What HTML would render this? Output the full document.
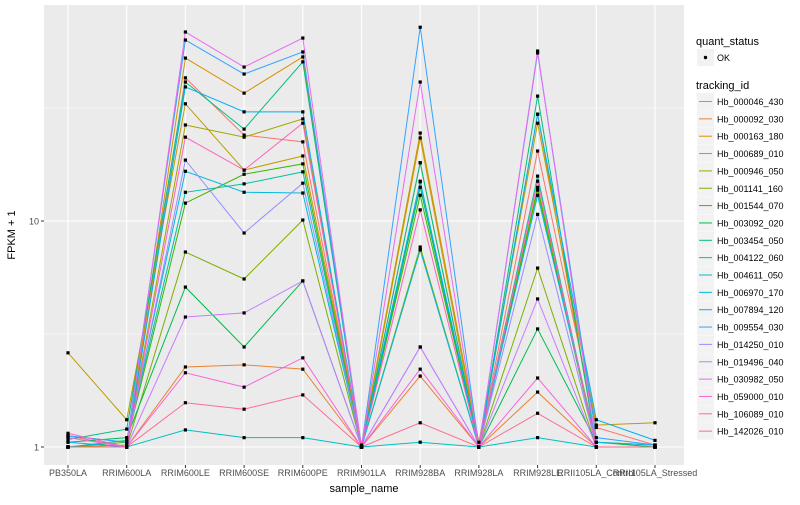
<!DOCTYPE html>
<html><head><meta charset="utf-8"><style>
body{margin:0;background:#fff;font-family:"Liberation Sans",sans-serif}
svg text{font-family:"Liberation Sans",sans-serif}
</style></head><body>
<svg id="c" width="800" height="500"></svg>
<script>
const categories=["PB350LA","RRIM600LA","RRIM600LE","RRIM600SE","RRIM600PE","RRIM901LA","RRIM928BA","RRIM928LA","RRIM928LE","RRII105LA_Control","RRII105LA_Stressed"];
const seriesIds=["Hb_000046_430","Hb_000092_030","Hb_000163_180","Hb_000689_010","Hb_000946_050","Hb_001141_160","Hb_001544_070","Hb_003092_020","Hb_003454_050","Hb_004122_060","Hb_004611_050","Hb_006970_170","Hb_007894_120","Hb_009554_030","Hb_014250_010","Hb_019496_040","Hb_030982_050","Hb_059000_010","Hb_106089_010","Hb_142026_010"];
const colors=["#F8766D","#EA8331","#D89000","#C09B00","#A3A500","#7CAE00","#39B600","#00BB4E","#00BF7D","#00C1A3","#00BFC4","#00BAE0","#00B0F6","#35A2FF","#9590FF","#C77CFF","#E76BF3","#FA62DB","#FF62BC","#FF6C91"];
const s01=[1.12,1.0,43,24,22.4,1.0,18.1,1.0,20.4,1.22,1.02];
const s02=[1.0,1.0,2.26,2.31,2.21,1.0,2.06,1.0,1.75,1.0,1.0];
const s03=[1.0,1.0,52.6,36.8,53.2,1.0,23.3,1.0,29.7,1.05,1.02];
const s04=[2.61,1.32,33,16.8,19.4,1.02,24.5,1.05,27.1,1.25,1.28];
const s05=[1.0,1.02,26.6,23.5,28.3,1.0,7.45,1.0,14.1,1.05,1.02];
const s06=[1.0,1.0,7.29,5.54,10.1,1.0,7.67,1.0,6.19,1.0,1.0];
const s07=[1.0,1.05,12,16.1,17.9,1.0,13,1.0,13.7,1.0,1.0];
const s08=[1.05,1.1,5.1,2.77,5.43,1.0,14.1,1.0,3.33,1.05,1.0];
const s09=[1.08,1.2,41.2,25.5,50.6,1.0,18.1,1.0,35.7,1.0,1.0];
const s10=[1.0,1.07,13.4,14.6,16.5,1.0,14.9,1.0,15.8,1.0,1.0];
const s11=[1.0,1.0,1.19,1.10,1.10,1.0,1.05,1.0,1.10,1.0,1.0];
const s12=[1.12,1.05,16.6,13.4,13.3,1.0,7.45,1.0,13.0,1.05,1.02];
const s13=[1.05,1.0,39.2,30.4,30.4,1.0,15,1.0,29.7,1.32,1.07];
const s14=[1.12,1.05,63.2,44.7,56,1.0,72,1.0,55.4,1.1,1.02];
const s15=[1.0,1.0,18.6,8.85,14.7,1.0,2.77,1.0,10.7,1.0,1.0];
const s16=[1.0,1.0,3.76,3.92,5.43,1.0,2.77,1.0,4.52,1.0,1.0];
const s17=[1.0,1.0,68.6,48,64.5,1.0,41.2,1.0,56.5,1.0,1.0];
const s18=[1.1,1.0,2.13,1.84,2.48,1.0,2.21,1.0,2.02,1.0,1.0];
const s19=[1.15,1.0,23.5,16.8,27.1,1.0,11.2,1.0,15,1.0,1.0];
const s20=[1.0,1.0,1.57,1.47,1.70,1.0,1.28,1.0,1.41,1.0,1.0];
const seriesValues=[s01,s02,s03,s04,s05,s06,s07,s08,s09,s10,s11,s12,s13,s14,s15,s16,s17,s18,s19,s20];
const yTicks=[1,10];
const yTickLabels=["1","10"];

const NS="http://www.w3.org/2000/svg";
const svg=document.getElementById('c');
function mk(t,a,p){const e=document.createElementNS(NS,t);for(const k in a)e.setAttribute(k,a[k]);(p||svg).appendChild(e);return e;}
const PL=44,PR=684,PT=5,PB=465;
const x=i=>68+i*58.7;
const y=v=>447-226*Math.log10(v);
const panel=mk('rect',{x:PL,y:PT,width:PR-PL,height:PB-PT,fill:'#EBEBEB'});


[Math.sqrt(10),Math.sqrt(1000)].forEach(v=>{mk('line',{x1:PL,x2:PR,y1:y(v),y2:y(v),stroke:'#fff','stroke-width':0.5});});
yTicks.forEach((v,i)=>{
 mk('line',{x1:PL,x2:PR,y1:y(v),y2:y(v),stroke:'#fff','stroke-width':1.1});
 mk('line',{x1:PL-3,x2:PL,y1:y(v),y2:y(v),stroke:'#333','stroke-width':1});
 const t=mk('text',{x:PL-5,y:y(v)+3.5,'text-anchor':'end','font-size':9,fill:'#4D4D4D'});t.textContent=yTickLabels[i];
 
 
});
categories.forEach((c,i)=>{
 mk('line',{x1:x(i),x2:x(i),y1:PT,y2:PB,stroke:'#fff','stroke-width':1.1});
 mk('line',{x1:x(i),x2:x(i),y1:PB,y2:PB+3,stroke:'#333','stroke-width':1});
 const t=mk('text',{x:x(i),y:PB+11,'text-anchor':'middle','font-size':9,fill:'#4D4D4D'});t.textContent=c;
 
 
});
seriesValues.forEach((vals,s)=>{
 const pl=mk('polyline',{points:vals.map((v,i)=>x(i)+','+y(v)).join(' '),fill:'none',stroke:colors[s],'stroke-width':1});
 
 
});
seriesValues.forEach((vals,s)=>{
 vals.forEach((v,i)=>{
  const p=mk('rect',{x:x(i)-1.6,y:y(v)-1.6,width:3.2,height:3.2,fill:'#000'});
  
  
 });
});
let t=mk('text',{x:364,y:492,'text-anchor':'middle','font-size':11,fill:'#000'});t.textContent='sample_name';


t=mk('text',{x:0,y:0,'text-anchor':'middle','font-size':11,fill:'#000',transform:'translate(15,235) rotate(-90)'});t.textContent='FPKM + 1';


// legend
t=mk('text',{x:696,y:45,'font-size':11,fill:'#000'});t.textContent='quant_status';


mk('rect',{x:697,y:49,width:17,height:17,fill:'#F2F2F2'});
mk('circle',{cx:705.5,cy:57.5,r:1.7,fill:'#000'});
t=mk('text',{x:717,y:61,'font-size':9,fill:'#000'});t.textContent='OK';


t=mk('text',{x:696,y:89,'font-size':11,fill:'#000'});t.textContent='tracking_id';


seriesIds.forEach((id,i)=>{
 const yy=93+i*17.35;
 mk('rect',{x:697,y:yy,width:17,height:17,fill:'#F2F2F2'});
 mk('line',{x1:699,x2:712,y1:yy+8.5,y2:yy+8.5,stroke:colors[i],'stroke-width':1});
 const e=mk('text',{x:717,y:yy+12,'font-size':9,fill:'#000'});e.textContent=id;
 
 
});
</script>
</body></html>
